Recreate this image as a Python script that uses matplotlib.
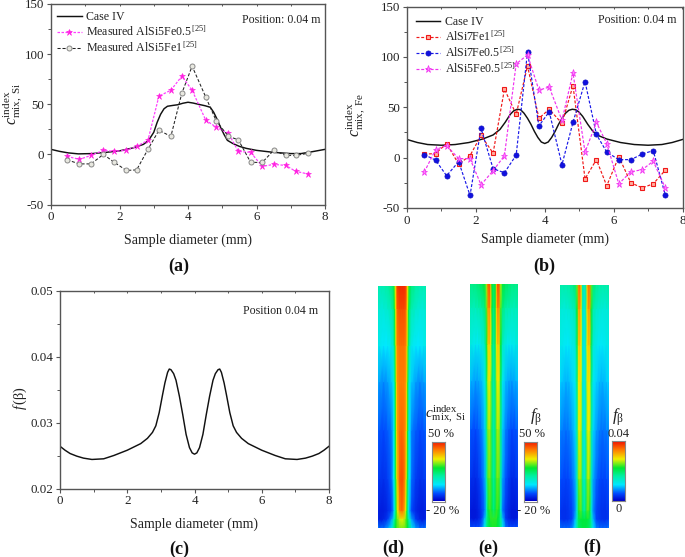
import numpy as np
import matplotlib
matplotlib.use("Agg")
import matplotlib.pyplot as plt
from matplotlib.colors import LinearSegmentedColormap

plt.rcParams['font.family'] = ['Liberation Serif', 'DejaVu Serif']
plt.rcParams['mathtext.fontset'] = 'custom'
plt.rcParams['mathtext.rm'] = 'Liberation Serif'
plt.rcParams['mathtext.it'] = 'Liberation Serif:italic'
plt.rcParams['mathtext.bf'] = 'Liberation Serif:bold'
plt.rcParams['axes.unicode_minus'] = False

W, H = 685, 557
TXT = '#222222'
EDGE = '#555555'

# ---- panel (a)
a_case_x = [0, .25, .5, .8, 1.2, 1.6, 2, 2.4, 2.7, 2.85, 3, 3.1, 3.2, 3.3, 3.4, 3.55, 3.7, 3.85, 4, 4.15, 4.3, 4.5, 4.65, 4.75, 4.85, 4.95, 5.05, 5.15, 5.3, 5.5, 5.7, 6, 6.5, 7, 7.3, 7.6, 8]
a_case_y = [5, 3, 1.5, .5, .8, 2, 3.5, 6.5, 10, 14, 22, 32, 40, 45.5, 48, 48.8, 49.5, 51, 52, 51.2, 50, 48.5, 47, 42, 35, 27, 20, 14, 11, 8, 6, 4, 2, .8, .8, 2.5, 5]
a_x = [.47, .83, 1.17, 1.53, 1.83, 2.2, 2.5, 2.83, 3.15, 3.5, 3.82, 4.12, 4.52, 4.83, 5.18, 5.47, 5.83, 6.17, 6.5, 6.85, 7.15, 7.5]
a_fe05 = [-2, -5, -1, 4, 3, 4, 8, 14, 58, 64, 78, 64, 34, 27, 21, 3, 2, -12, -10, -11, -17, -19.5]
a_fe1 = [-5.5, -9.5, -9.5, 0, -7.5, -16, -15.5, 5, 24, 18, 61, 88, 57, 33, 18, 14.5, -8, -8, 4, -1, -1, 1]

# ---- panel (b)
b_case_x = [0, .3, .6, 1, 1.4, 1.8, 2.2, 2.5, 2.7, 2.85, 3, 3.1, 3.2, 3.3, 3.4, 3.5, 3.6, 3.7, 3.8, 3.9, 4, 4.1, 4.2, 4.3, 4.4, 4.5, 4.6, 4.7, 4.8, 4.9, 5, 5.1, 5.25, 5.4, 5.55, 5.8, 6.2, 6.6, 7, 7.4, 7.7, 8]
b_case_y = [18, 15, 13, 12.3, 13, 15, 18.5, 22.5, 28, 35, 43, 46.5, 48, 47.5, 44, 39, 33, 26, 20, 15.5, 14, 15.5, 20, 26, 33, 39, 44, 47, 48, 47.5, 45, 41, 33, 26, 22, 18.5, 15, 13, 12.3, 13, 15, 18]
b_x = [.5, .83, 1.15, 1.5, 1.83, 2.15, 2.5, 2.83, 3.17, 3.5, 3.83, 4.13, 4.5, 4.82, 5.17, 5.5, 5.8, 6.15, 6.5, 6.83, 7.15, 7.5]
b_7fe1 = [3.5, 4, 14, -6.5, 2, 22, 4.5, 68, 43, 91, 39, 48, 34, 71.5, -21, -2, -28, 1, -25, -30, -26, -12.5]
b_7fe05 = [3, -2.5, -18, -4, -37.5, 29, -11, -15, 2.5, 105, 31.5, 45.5, -7, 35, 75.5, 23, 5.5, -2, -2, 3.5, 7, -37]
b_5fe05 = [-14.5, 8, 12, -1, -1, -27, -13, 2, 93, 102, 67, 70, 37, 84, 5.5, 35, 14, -26, -14, -12, -3.5, -30]

# ---- panel (c)
c_x = [0, .15, .3, .5, .7, .95, 1.3, 1.6, 2, 2.4, 2.6, 2.75, 2.85, 2.95, 3.05, 3.12, 3.2, 3.25, 3.3, 3.38, 3.45, 3.55, 3.65, 3.75, 3.85, 3.93, 4,
       4.07, 4.15, 4.25, 4.35, 4.45, 4.55, 4.62, 4.7, 4.75, 4.8, 4.88, 4.95, 5.05, 5.15, 5.25, 5.4, 5.6, 6, 6.4, 6.7, 7.05, 7.3, 7.5, 7.7, 7.85, 8]
c_y = [.0264, .0258, .0253, .0249, .0246, .0244, .0245, .0250, .0258, .0268, .0276, .0285, .0295, .0315, .0342, .0360, .0376, .0381, .0380, .0374, .0364, .0340, .0312, .0282, .0262, .0254, .0252,
       .0254, .0262, .0282, .0312, .0340, .0364, .0374, .0380, .0381, .0376, .0360, .0342, .0315, .0295, .0285, .0276, .0268, .0258, .0250, .0245, .0244, .0246, .0249, .0253, .0258, .0264]

# ---- contour panels: half-profiles (centre to wall, px) at heights (fraction from top)
d_off = [0, 2, 4, 5, 6, 7, 8, 10, 14, 18, 22, 24]
e_off = [0, 1.5, 3, 4, 5.5, 7, 9, 12, 15, 18, 22, 24]
rows = [0, .1, .25, .4, .6, .8, .93, .965, 1]
d_vals = [[.97, .97, .95, .88, .72, .62, .52, .46, .42, .40, .39, .42],
          [.92, .92, .90, .82, .68, .55, .45, .39, .35, .33, .33, .36],
          [.87, .87, .85, .78, .64, .48, .36, .30, .27, .27, .29, .31],
          [.85, .85, .83, .74, .58, .42, .30, .24, .20, .18, .20, .22],
          [.88, .87, .82, .72, .56, .38, .26, .17, .14, .12, .13, .15],
          [.92, .90, .78, .66, .52, .38, .28, .15, .10, .08, .09, .11],
          [.88, .84, .70, .58, .44, .30, .20, .11, .07, .05, .05, .07],
          [.70, .68, .62, .58, .50, .42, .34, .20, .10, .06, .05, .07],
          [.62, .62, .60, .58, .55, .50, .45, .30, .20, .15, .15, .18]]
e_vals = [[.50, .54, .78, .93, .90, .66, .54, .50, .48, .46, .45, .47],
          [.46, .52, .74, .85, .82, .60, .46, .41, .40, .38, .38, .40],
          [.42, .48, .70, .76, .74, .54, .36, .31, .29, .29, .31, .33],
          [.40, .46, .66, .70, .68, .48, .29, .23, .21, .20, .22, .24],
          [.40, .46, .62, .66, .64, .44, .24, .17, .14, .12, .13, .15],
          [.42, .48, .60, .62, .60, .40, .20, .13, .09, .07, .08, .10],
          [.46, .52, .58, .58, .54, .34, .16, .09, .06, .04, .04, .06],
          [.58, .58, .58, .54, .50, .42, .22, .09, .06, .04, .04, .06],
          [.56, .56, .54, .52, .50, .44, .30, .16, .12, .12, .12, .14]]
f_vals = [[.36, .42, .74, .88, .86, .62, .48, .44, .42, .41, .41, .43],
          [.32, .38, .72, .82, .80, .56, .40, .36, .34, .33, .33, .35],
          [.30, .36, .70, .76, .74, .50, .33, .30, .28, .28, .30, .31],
          [.30, .36, .68, .72, .70, .46, .29, .25, .23, .22, .24, .26],
          [.30, .38, .66, .70, .68, .42, .25, .20, .17, .16, .17, .19],
          [.34, .42, .62, .66, .62, .38, .21, .15, .12, .11, .12, .14],
          [.42, .48, .60, .60, .56, .34, .18, .11, .09, .08, .08, .10],
          [.54, .54, .54, .52, .50, .40, .22, .11, .09, .08, .08, .10],
          [.52, .52, .50, .50, .48, .42, .28, .18, .15, .15, .15, .17]]

cmap = LinearSegmentedColormap.from_list('tec', [
    (0, '#0000c8'), (.12, '#0048ff'), (.27, '#00e8ff'), (.42, '#00f0a0'), (.55, '#00e830'),
    (.7, '#f0f000'), (.85, '#ff8000'), (1, '#f01000')])

fig = plt.figure(figsize=(W / 100, H / 100), dpi=100)


def box(l, t, r, b):
    return fig.add_axes([l / W, 1 - b / H, (r - l) / W, (b - t) / H])


def style(ax, ylim, yt, ym, pad, ylabels=None):
    ax.set_xlim(0, 8)
    ax.set_ylim(*ylim)
    ax.set_xticks([0, 2, 4, 6, 8])
    ax.set_xticks([1, 3, 5, 7], minor=True)
    ax.set_yticks(yt)
    ax.set_yticks(ym, minor=True)
    if ylabels:
        ax.set_yticklabels(ylabels)
    ax.tick_params(which='major', length=3, width=.8, color=EDGE, labelsize=9.4, labelcolor=TXT, pad=2)
    ax.tick_params(which='minor', length=2, width=.7, color=EDGE)
    for s in ax.spines.values():
        s.set_color(EDGE)
        s.set_linewidth(1.0)
    tw = ax.twiny()
    tw.set_xlim(0, 8)
    tw.set_xticks([0, 2, 4, 6, 8])
    tw.set_xticks([1, 3, 5, 7], minor=True)
    tw.tick_params(which='both', direction='in', length=1.5, width=.7, color=EDGE, labeltop=False)
    for s in tw.spines.values():
        s.set_visible(False)
    ax.set_xlabel('Sample diameter (mm)', fontsize=10, color=TXT, labelpad=pad)


leg_kw = dict(frameon=False, fontsize=8.6, handlelength=2.05, handletextpad=.4, labelspacing=.12,
              numpoints=1, borderaxespad=0, borderpad=0, labelcolor=TXT)

# (a)
ax = box(51, 4, 325, 204.5)
ax.plot(a_case_x, a_case_y, color='#111111', lw=1.05, label='Case IV')
ax.plot(a_x, a_fe05, color='#ff40ff', lw=.9, ls=(0, (2, 1.2)), marker='*', ms=4.8, mfc='#ff20e0', mec='#ff20e0', mew=.4,
        label='Measured AlSi5Fe0.5$^{\\,[25]}$')
ax.plot(a_x, a_fe1, color='#222222', lw=.75, ls=(0, (3, 1.8)), marker='o', ms=3.6, mfc='#e8e8e0', mec='#888888', mew=.7,
        label='Measured AlSi5Fe1$^{\\,[25]}$')
style(ax, (-50, 150), [-50, 0, 50, 100, 150], [-25, 25, 75, 125], 7.5)
ax.legend(loc='upper left', bbox_to_anchor=(.022, .965), **leg_kw)
fig.text(320 / W, 1 - 20 / H, 'Position: 0.04 m', ha='right', va='center', fontsize=8.6, color=TXT)
fig.text(12 / W, 1 - 104 / H, r'$c_{\mathrm{mix,\ Si}}^{\mathrm{index}}$', rotation=90, ha='center', va='center', fontsize=11.5, color=TXT)
fig.text(179 / W, 1 - 266 / H, '(a)', ha='center', va='center', fontsize=13, fontweight='bold', color='#111111')

# (b)
ax = box(407, 6.5, 682.5, 208)
ax.plot(b_case_x, b_case_y, color='#111111', lw=1.05, label='Case IV')
ax.plot(b_x, b_7fe1, color='#f01818', lw=.85, ls=(0, (2.5, 1.5)), marker='s', ms=3.1, mfc='#ffb0a0', mec='#f01818', mew=.8,
        label='AlSi7Fe1$^{\\,[25]}$')
ax.plot(b_x, b_7fe05, color='#1818e8', lw=.85, ls=(0, (2.5, 1.5)), marker='o', ms=3.7, mfc='#1010e0', mec='#1010c0', mew=.5,
        label='AlSi7Fe0.5$^{\\,[25]}$')
ax.plot(b_x, b_5fe05, color='#f030f0', lw=.85, ls=(0, (2.5, 1.5)), marker='*', ms=5.2, mfc='#ff80ff', mec='#f030f0', mew=.5,
        label='AlSi5Fe0.5$^{\\,[25]}$')
style(ax, (-50, 150), [-50, 0, 50, 100, 150], [-25, 25, 75, 125], 4)
ax.legend(loc='upper left', bbox_to_anchor=(.031, .953), **leg_kw)
fig.text(677 / W, 1 - 20 / H, 'Position: 0.04 m', ha='right', va='center', fontsize=8.6, color=TXT)
fig.text(355 / W, 1 - 115 / H, r'$c_{\mathrm{mix,\ Fe}}^{\mathrm{index}}$', rotation=90, ha='center', va='center', fontsize=11.5, color=TXT)
fig.text(544 / W, 1 - 266 / H, '(b)', ha='center', va='center', fontsize=13, fontweight='bold', color='#111111')

# (c)
ax = box(60, 290.5, 329, 488.5)
ax.plot(c_x, c_y, color='#111111', lw=1.05)
style(ax, (.02, .05), [.02, .03, .04, .05], [.025, .035, .045], 7, ['0.02', '0.03', '0.04', '0.05'])
fig.text(318 / W, 1 - 311.5 / H, 'Position 0.04 m', ha='right', va='center', fontsize=8.6, color=TXT)
fig.text(20 / W, 1 - 398 / H, r'$f\,$(β)', rotation=90, ha='center', va='center', fontsize=10.2, color=TXT)
fig.text(179 / W, 1 - 549 / H, '(c)', ha='center', va='center', fontsize=13, fontweight='bold', color='#111111')


# contour panels
def contour(l, t, r, b, off, vals):
    a = box(l, t, r, b)
    half = np.array(off, float) / max(off)
    xs = np.concatenate([-half[::-1], half[1:]])
    v = np.array(vals, float)
    full = np.hstack([v[:, ::-1], v[:, 1:]])
    X, Y = np.meshgrid(xs, rows)
    a.pcolormesh(X, Y, full, shading='gouraud', cmap=cmap, vmin=0, vmax=1, rasterized=True)
    a.set_xlim(-1, 1)
    a.set_ylim(1, 0)
    a.axis('off')


def cbar(l, t, r, b):
    a = box(l, t, r, b)
    a.imshow(np.linspace(1, 0, 200)[:, None], aspect='auto', cmap=cmap, vmin=0, vmax=1)
    a.set_xticks([])
    a.set_yticks([])
    for s in a.spines.values():
        s.set_color('#888888')
        s.set_linewidth(.8)


contour(377.5, 285.5, 426, 528, d_off, d_vals)
contour(469.5, 284, 518, 527, e_off, e_vals)
contour(560, 285, 608.5, 528, e_off, f_vals)
cbar(432.5, 441.5, 445.5, 501.5)
cbar(524, 441.5, 537, 501.5)
cbar(612, 441, 625, 501)

T = dict(ha='center', va='center', color=TXT)
fig.text(445 / W, 1 - 414 / H, r'$c_{\mathrm{mix,\ Si}}^{\mathrm{index}}$', fontsize=11, **T)
fig.text(441.5 / W, 1 - 434 / H, '50 %', fontsize=9, **T)
fig.text(442.5 / W, 1 - 511 / H, '- 20 %', fontsize=9, **T)
fig.text(536 / W, 1 - 417 / H, r'$f_{\mathrm{\beta}}$', fontsize=12, **T)
fig.text(532 / W, 1 - 434 / H, '50 %', fontsize=9, **T)
fig.text(533.5 / W, 1 - 511 / H, '- 20 %', fontsize=9, **T)
fig.text(618 / W, 1 - 417 / H, r'$f_{\mathrm{\beta}}$', fontsize=12, **T)
fig.text(619 / W, 1 - 434 / H, '0.04', fontsize=9, **T)
fig.text(619 / W, 1 - 509 / H, '0', fontsize=9, **T)
P = dict(ha='center', va='center', fontsize=13, fontweight='bold', color='#111111')
fig.text(393 / W, 1 - 548 / H, '(d)', **P)
fig.text(488 / W, 1 - 548 / H, '(e)', **P)
fig.text(592 / W, 1 - 547 / H, '(f)', **P)

fig.savefig('out.png', dpi=100)
